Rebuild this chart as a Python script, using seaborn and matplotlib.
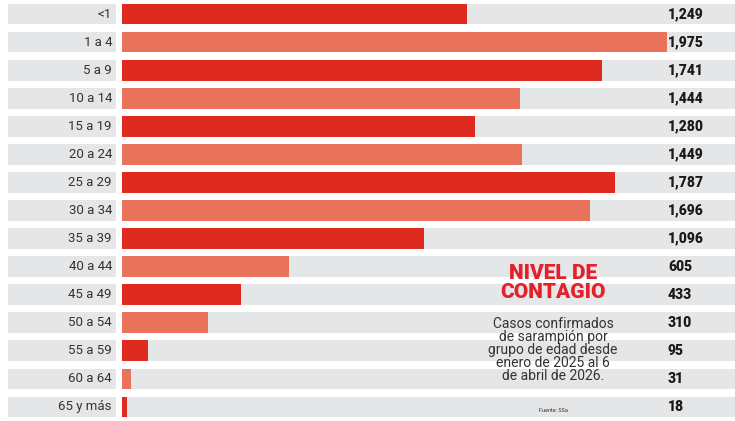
import matplotlib
matplotlib.use("Agg")
import matplotlib.pyplot as plt
import seaborn as sns

# Data: measles cases by age group
grupos = ["<1", "1 a 4", "5 a 9", "10 a 14", "15 a 19", "20 a 24", "25 a 29",
          "30 a 34", "35 a 39", "40 a 44", "45 a 49", "50 a 54", "55 a 59",
          "60 a 64", "65 y más"]
casos = [1249, 1975, 1741, 1444, 1280, 1449, 1787, 1696, 1096, 605, 433, 310, 95, 31, 18]

rojo = "#df2a20"
coral = "#e8735a"
gris = "#e5e6e8"

sns.set_theme(style="white")
plt.rcParams["font.family"] = ["Roboto", "DejaVu Sans"]

W, H = 735, 421
fig = plt.figure(figsize=(W / 100, H / 100), dpi=100)
ax = fig.add_axes([0, 0, 1, 1])

# pixel layout helpers
x0_px = 122           # where bars start
px_per_unit = (667 - x0_px) / 1975
ax.set_xlim(-x0_px / px_per_unit, (W - x0_px) / px_per_unit)
pitch = (410 - 20) / (len(grupos) - 1)
ax.set_ylim(len(grupos) - 1 + (H - 410) / pitch, -20 / pitch)

# gray row stripes
for i in range(len(grupos)):
    ax.axhspan(i - 0.37, i + 0.37, xmin=8 / W, xmax=116 / W, color=gris, lw=0, zorder=0)
    ax.axhspan(i - 0.37, i + 0.37, xmin=x0_px / W, xmax=1, color=gris, lw=0, zorder=0)

colores = [rojo if i % 2 == 0 else coral for i in range(len(grupos))]
sns.barplot(x=casos, y=grupos, hue=grupos, palette=colores, legend=False,
            orient="h", width=0.74, saturation=1, linewidth=0, ax=ax, zorder=2)

ax.set_xlabel("")
ax.set_ylabel("")
ax.set_xticks([])
ax.set_yticks([])
for s in ax.spines.values():
    s.set_visible(False)

# category labels and values
lab_x = -(x0_px - 112) / px_per_unit
val_x = (668 - x0_px) / px_per_unit
for i, (g, v) in enumerate(zip(grupos, casos)):
    ax.text(lab_x, i, g, ha="right", va="center", fontsize=9.5, color="#333333", zorder=3)
    ax.text(val_x, i, f"{v:,}", ha="left", va="center", fontsize=10, fontweight="heavy",
            color="#1a1a1a", zorder=3)

# annotation
fig.text(553 / W, 1 - 283 / H, "NIVEL DE\nCONTAGIO", ha="center", va="center",
         fontsize=15, fontweight="heavy", color="#e3202c", linespacing=1.0)
fig.text(553 / W, 1 - 350 / H,
         "Casos confirmados\nde sarampión por\ngrupo de edad desde\nenero de 2025 al 6\nde abril de 2026.",
         ha="center", va="center", fontsize=10, color="#333333", linespacing=0.92)
fig.text(553 / W, 1 - 410 / H, "Fuente: SSa", ha="center", va="center", fontsize=4,
         color="#333333")

fig.savefig("out.png", dpi=100)
